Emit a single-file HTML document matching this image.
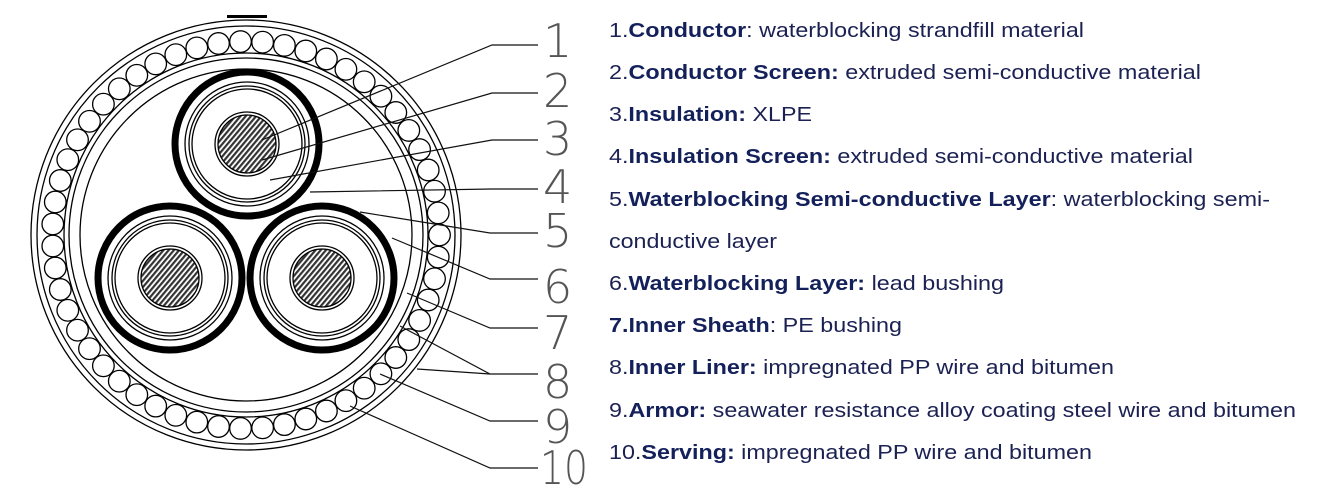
<!DOCTYPE html>
<html><head><meta charset="utf-8"><style>
html,body{margin:0;padding:0;background:#fff;width:1331px;height:496px;overflow:hidden}
svg{display:block}
.t{font-family:"Liberation Sans",Arial,sans-serif;font-size:20px;fill:#1b2152}
.b{font-weight:bold;fill:#13205a}
.n{font-family:"DejaVu Sans","Liberation Sans",sans-serif;font-weight:200;font-size:46px;fill:#555}
</style></head><body>
<svg id="s" width="1331" height="496" viewBox="0 0 1331 496" xmlns="http://www.w3.org/2000/svg">
<defs>
<pattern id="h" width="4" height="4" patternUnits="userSpaceOnUse" patternTransform="rotate(-50)">
<rect width="4" height="4" fill="#fff"/><rect width="4" height="2.2" fill="#333"/>
</pattern>
</defs>
<g fill="none" stroke="#000" stroke-width="1.3">
<circle cx="246" cy="235" r="215"/>
<circle cx="246" cy="235" r="209"/>
<circle cx="246" cy="235" r="182"/>
<circle cx="246" cy="235" r="177"/>
<circle cx="246" cy="235" r="166"/>
<g id="wires"></g>
<!-- cores -->
<g id="c1" transform="translate(247,144)">
<circle r="72" stroke-width="7"/>
<circle r="62"/><circle r="58"/><circle r="55"/>
<circle r="32"/><circle r="29" fill="url(#h)"/>
</g>
<g transform="translate(170,278)">
<circle r="72" stroke-width="7"/>
<circle r="62"/><circle r="58"/><circle r="55"/>
<circle r="32"/><circle r="29" fill="url(#h)"/>
</g>
<g transform="translate(322,278)">
<circle r="72" stroke-width="7"/>
<circle r="62"/><circle r="58"/><circle r="55"/>
<circle r="32"/><circle r="29" fill="url(#h)"/>
</g>
</g>
<rect x="227" y="15" width="40" height="3" fill="#000"/>
<g fill="none" stroke="#111" stroke-width="1.2">
<polyline points="262,140 492,45 538,45"/>
<polyline points="262,160 492,93 538,93"/>
<polyline points="270,180 492,140 538,140"/>
<polyline points="310,192 492,189 538,189"/>
<polyline points="360,212 490,233 538,233"/>
<polyline points="392,238 490,279 538,279"/>
<polyline points="407,293 490,328 538,328"/>
<polyline points="400,326 490,374 538,374"/>
<polyline points="417,369 490,374"/>
<polyline points="380,374 490,421 538,421"/>
<polyline points="350,406 490,468 538,468"/>
</g>
<g class="n">
<text x="543" y="57">1</text>
<text x="543" y="107">2</text>
<text x="543" y="155">3</text>
<text x="543" y="203">4</text>
<text x="543" y="247">5</text>
<text x="543" y="303">6</text>
<text x="543" y="349">7</text>
<text x="543" y="398">8</text>
<text x="543" y="443">9</text>
<text x="540" y="484" textLength="48" lengthAdjust="spacingAndGlyphs">10</text>
</g>
<g class="t">
<text x="609" y="37" textLength="475" lengthAdjust="spacingAndGlyphs">1.<tspan class="b">Conductor</tspan>: waterblocking strandfill material</text>
<text x="609" y="79" textLength="592" lengthAdjust="spacingAndGlyphs">2.<tspan class="b">Conductor Screen:</tspan> extruded semi-conductive material</text>
<text x="609" y="121" textLength="203" lengthAdjust="spacingAndGlyphs">3.<tspan class="b">Insulation:</tspan> XLPE</text>
<text x="609" y="163" textLength="584" lengthAdjust="spacingAndGlyphs">4.<tspan class="b">Insulation Screen:</tspan> extruded semi-conductive material</text>
<text x="609" y="206" textLength="661" lengthAdjust="spacingAndGlyphs">5.<tspan class="b">Waterblocking Semi-conductive Layer</tspan>: waterblocking semi-</text>
<text x="609" y="248" textLength="168" lengthAdjust="spacingAndGlyphs">conductive layer</text>
<text x="609" y="290" textLength="395" lengthAdjust="spacingAndGlyphs">6.<tspan class="b">Waterblocking Layer:</tspan> lead bushing</text>
<text x="609" y="332" textLength="293" lengthAdjust="spacingAndGlyphs"><tspan class="b">7.Inner Sheath</tspan>: PE bushing</text>
<text x="609" y="374" textLength="505" lengthAdjust="spacingAndGlyphs">8.<tspan class="b">Inner Liner:</tspan> impregnated PP wire and bitumen</text>
<text x="609" y="417" textLength="687" lengthAdjust="spacingAndGlyphs">9.<tspan class="b">Armor:</tspan> seawater resistance alloy coating steel wire and bitumen</text>
<text x="609" y="459" textLength="483" lengthAdjust="spacingAndGlyphs">10.<tspan class="b">Serving:</tspan> impregnated PP wire and bitumen</text>
</g>
</svg>
<script>
var g=document.getElementById('wires'),N=55,s='';
for(var i=0;i<N;i++){var a=2*Math.PI*i/N;var x=246+193.5*Math.cos(a),y=235+193.5*Math.sin(a);
s+='<circle cx="'+x.toFixed(1)+'" cy="'+y.toFixed(1)+'" r="10.8"/>';}
g.innerHTML=s;
</script>
</body></html>
